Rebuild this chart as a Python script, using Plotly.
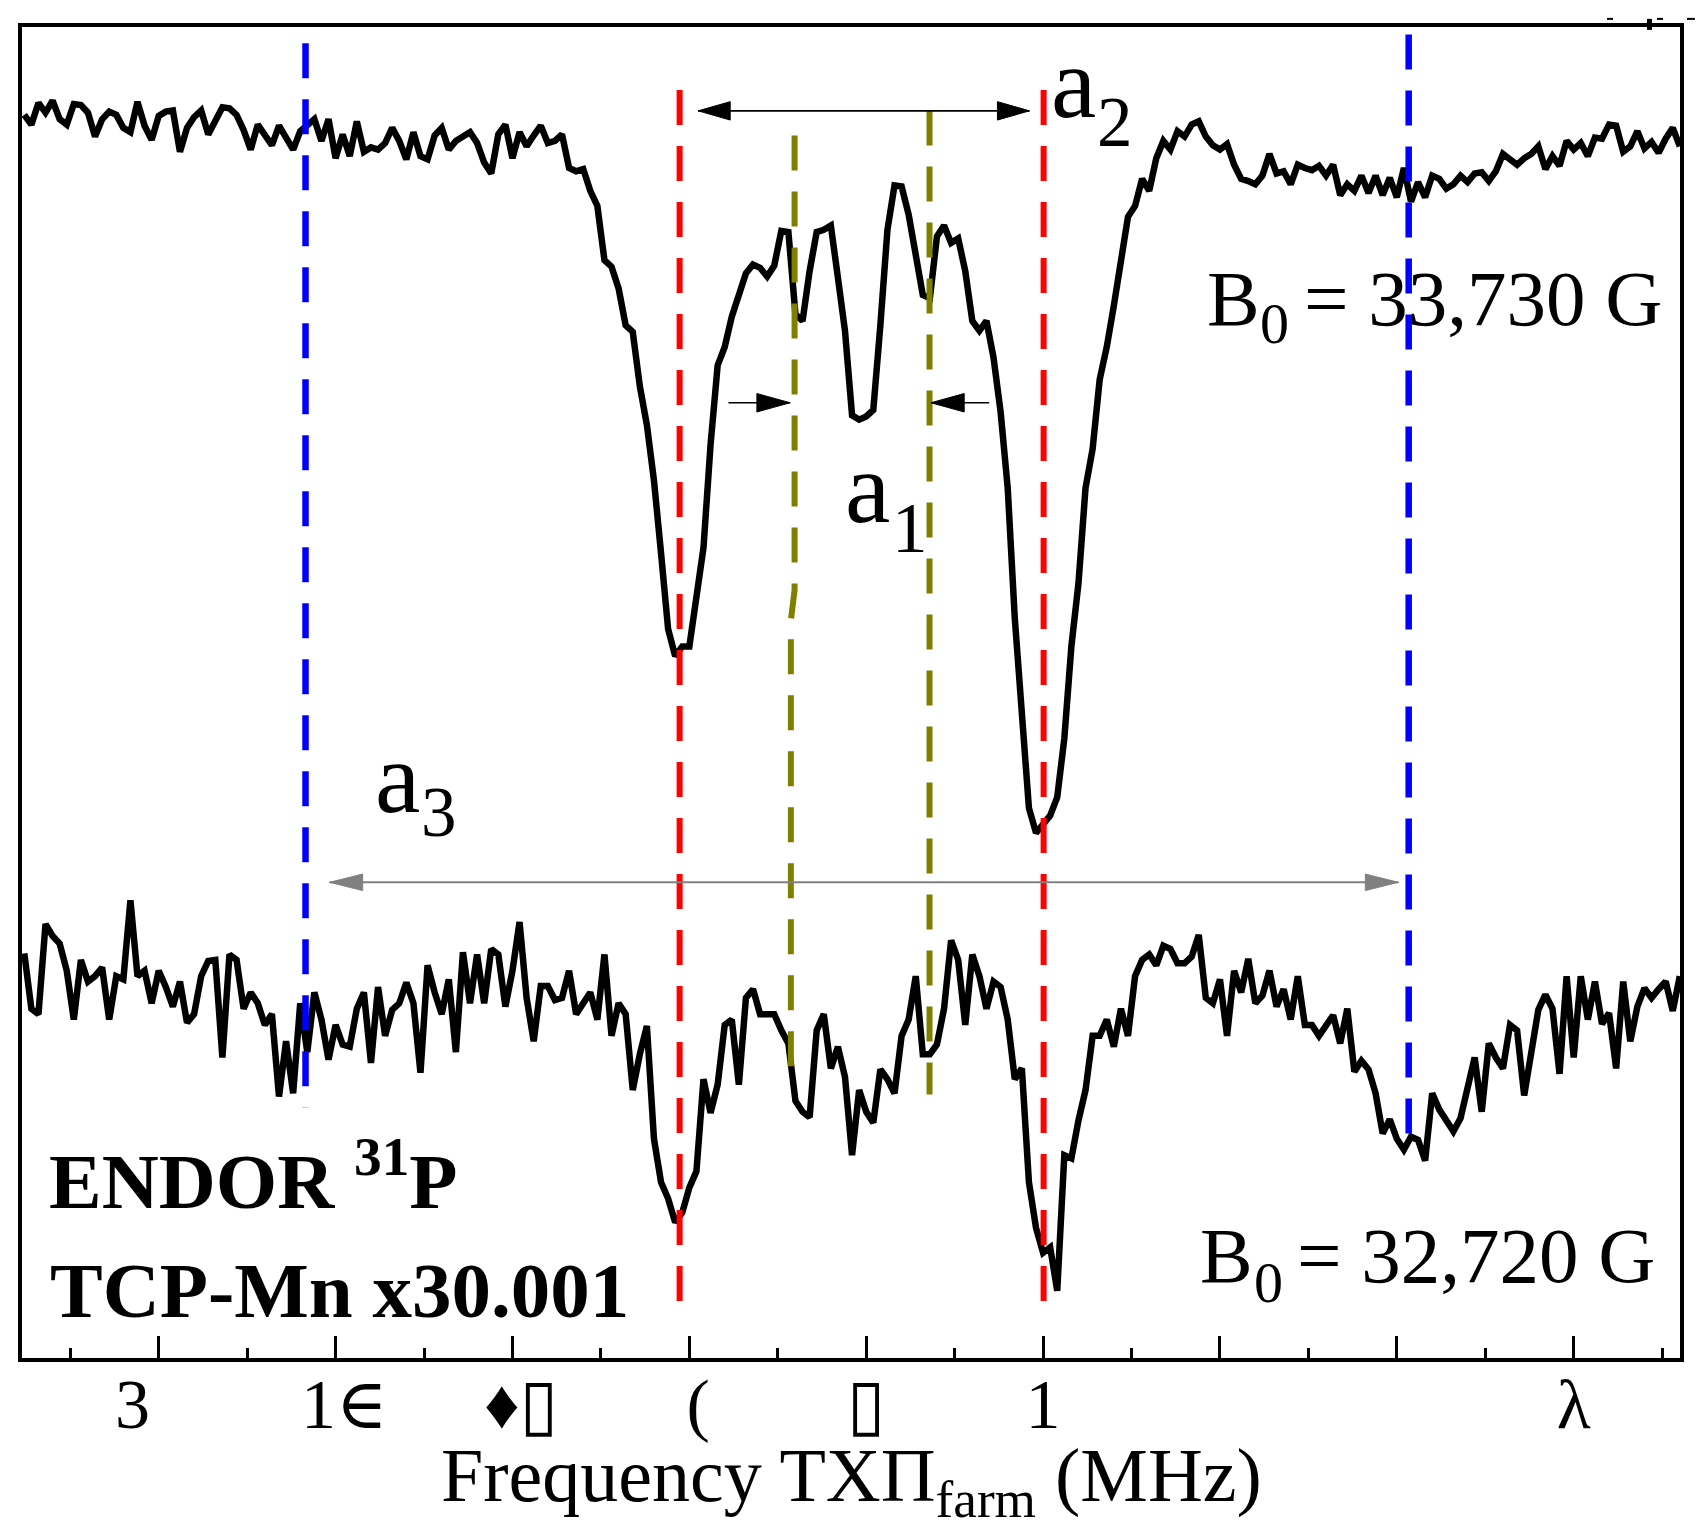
import plotly.graph_objects as go

# sweep axis (MHz) shared by both spectra
freq = [
    49.24, 49.28, 49.32, 49.36, 49.40, 49.44, 49.48, 49.52, 49.56, 49.60,
    49.64, 49.68, 49.72, 49.76, 49.80, 49.84, 49.88, 49.92, 49.96, 50.00,
    50.04, 50.08, 50.12, 50.16, 50.20, 50.24, 50.28, 50.32, 50.36, 50.40,
    50.44, 50.48, 50.52, 50.56, 50.60, 50.64, 50.68, 50.72, 50.76, 50.80,
    50.84, 50.88, 50.92, 50.96, 51.00, 51.04, 51.08, 51.12, 51.16, 51.20,
    51.24, 51.28, 51.32, 51.36, 51.40, 51.44, 51.48, 51.52, 51.56, 51.60,
    51.64, 51.68, 51.72, 51.76, 51.80, 51.84, 51.88, 51.92, 51.96, 52.00,
    52.04, 52.08, 52.12, 52.16, 52.20, 52.24, 52.28, 52.32, 52.36, 52.40,
    52.44, 52.48, 52.52, 52.56, 52.60, 52.64, 52.68, 52.72, 52.76, 52.80,
    52.84, 52.88, 52.92, 52.96, 53.00, 53.04, 53.08, 53.12, 53.16, 53.20,
    53.24, 53.28, 53.32, 53.36, 53.40, 53.44, 53.48, 53.52, 53.56, 53.60,
    53.64, 53.68, 53.72, 53.76, 53.80, 53.84, 53.88, 53.92, 53.96, 54.00,
    54.04, 54.08, 54.12, 54.16, 54.20, 54.24, 54.28, 54.32, 54.36, 54.40,
    54.44, 54.48, 54.52, 54.56, 54.60, 54.64, 54.68, 54.72, 54.76, 54.80,
    54.84, 54.88, 54.92, 54.96, 55.00, 55.04, 55.08, 55.12, 55.16, 55.20,
    55.24, 55.28, 55.32, 55.36, 55.40, 55.44, 55.48, 55.52, 55.56, 55.60,
    55.64, 55.68, 55.72, 55.76, 55.80, 55.84, 55.88, 55.92, 55.96, 56.00,
    56.04, 56.08, 56.12, 56.16, 56.20, 56.24, 56.28, 56.32, 56.36, 56.40,
    56.44, 56.48, 56.52, 56.56, 56.60, 56.64, 56.68, 56.72, 56.76, 56.80,
    56.84, 56.88, 56.92, 56.96, 57.00, 57.04, 57.08, 57.12, 57.16, 57.20,
    57.24, 57.28, 57.32, 57.36, 57.40, 57.44, 57.48, 57.52, 57.56, 57.60,
    57.64, 57.68, 57.72, 57.76, 57.80, 57.84, 57.88, 57.92, 57.96, 58.00,
    58.04, 58.08, 58.12, 58.16, 58.20, 58.24, 58.28, 58.32, 58.36, 58.40,
    58.44, 58.48, 58.52, 58.56, 58.60,
]

# B0 = 33,730 G spectrum (offset upwards, arb. units)
top_signal = [
    114.6, 113.7, 115.7, 114.8, 115.9, 114.2, 113.7, 115.6, 115.5, 114.8,
    112.6, 114.2, 114.9, 114.6, 113.4, 113.0, 115.8, 113.6, 112.3, 114.5,
    114.9, 115.0, 111.2, 113.4, 114.4, 115.0, 112.8, 114.2, 115.3, 115.2,
    114.6, 113.2, 111.4, 113.7, 112.7, 111.8, 113.6, 112.6, 111.4, 113.1,
    113.7, 114.2, 112.2, 114.2, 110.6, 112.8, 110.8, 114.0, 111.2, 111.6,
    111.4, 112.0, 113.4, 112.2, 110.5, 113.0, 110.8, 110.5, 112.7, 113.4,
    111.4, 112.2, 112.6, 113.0, 112.0, 110.2, 109.2, 112.8, 113.7, 110.6,
    113.0, 111.7, 112.7, 113.6, 112.0, 112.2, 112.8, 109.7, 109.4, 109.6,
    107.6, 106.2, 101.2, 100.6, 98.6, 95.2, 94.6, 89.6, 86.0, 80.9,
    74.2, 67.2, 64.7, 65.6, 65.6, 70.3, 74.7, 84.2, 91.5, 93.2,
    96.0, 98.0, 100.0, 100.8, 100.5, 99.7, 100.7, 103.9, 103.8, 96.2,
    95.6, 100.2, 103.8, 104.0, 104.4, 99.6, 94.7, 86.9, 86.5, 86.8,
    87.4, 95.2, 104.0, 108.1, 108.0, 105.4, 101.6, 98.0, 97.7, 103.4,
    104.4, 102.8, 103.2, 100.2, 95.6, 94.7, 95.6, 92.2, 87.2, 80.2,
    68.2, 59.0, 50.7, 48.4, 49.1, 50.0, 51.7, 57.1, 65.6, 71.4,
    80.2, 83.8, 90.2, 93.2, 97.0, 100.8, 105.2, 106.2, 108.7, 107.6,
    110.6, 112.2, 111.4, 113.1, 112.6, 113.7, 114.0, 112.6, 111.8, 111.4,
    111.9, 110.0, 108.7, 108.5, 108.2, 109.0, 111.0, 109.2, 109.4, 108.2,
    110.0, 109.7, 109.5, 109.9, 109.0, 110.0, 107.2, 108.2, 107.6, 109.0,
    107.4, 109.0, 107.2, 108.8, 107.0, 109.7, 106.6, 108.4, 107.0, 109.0,
    108.7, 107.8, 108.2, 109.0, 108.4, 109.2, 109.3, 108.5, 109.4, 111.0,
    110.4, 110.0, 110.6, 111.0, 111.7, 109.6, 110.8, 109.9, 112.2, 111.4,
    112.0, 110.8, 112.5, 112.4, 113.7, 113.6, 111.2, 111.7, 113.1, 111.5,
    112.1, 111.1, 112.4, 113.4, 111.7,
]

# B0 = 32,720 G spectrum (x30)
bottom_signal = [
    37.3, 32.2, 31.7, 40.0, 38.9, 38.2, 35.7, 31.2, 36.7, 34.7,
    35.2, 36.0, 31.2, 35.2, 34.9, 42.2, 35.2, 35.7, 32.7, 35.7,
    34.2, 32.4, 34.7, 30.9, 31.7, 35.2, 36.6, 36.7, 27.7, 37.2,
    36.7, 32.2, 33.7, 32.7, 30.7, 31.7, 24.1, 29.2, 24.4, 32.7,
    28.2, 33.7, 31.2, 27.5, 30.7, 28.9, 28.7, 32.2, 33.7, 27.2,
    34.2, 29.7, 32.1, 32.7, 34.6, 32.7, 26.3, 36.2, 33.7, 31.7,
    34.9, 28.2, 37.4, 32.7, 37.2, 32.7, 37.7, 37.2, 32.4, 35.7,
    40.2, 33.2, 29.2, 34.3, 34.3, 33.0, 33.2, 35.7, 31.7, 32.7,
    33.7, 31.2, 37.2, 29.7, 32.7, 31.7, 24.7, 28.0, 30.6, 20.2,
    16.2, 14.7, 12.5, 13.4, 15.7, 17.2, 25.7, 22.6, 25.2, 30.7,
    31.2, 25.2, 33.2, 34.0, 31.7, 31.7, 31.7, 30.2, 29.0, 23.7,
    22.7, 22.2, 30.2, 31.7, 26.7, 28.7, 25.9, 18.7, 24.7, 22.7,
    21.7, 26.6, 25.7, 24.4, 29.7, 31.2, 35.2, 28.0, 28.0, 28.9,
    32.2, 38.5, 36.7, 30.7, 37.2, 35.2, 32.2, 34.7, 34.2, 31.2,
    25.7, 26.7, 16.2, 12.0, 9.7, 10.2, 6.2, 18.7, 18.4, 21.9,
    24.7, 29.7, 29.7, 31.2, 28.7, 32.2, 29.7, 35.2, 36.7, 37.2,
    36.2, 38.0, 37.7, 36.4, 36.4, 37.0, 39.0, 33.2, 32.7, 34.9,
    29.7, 35.7, 33.7, 36.8, 32.7, 33.4, 35.7, 32.4, 34.0, 31.2,
    35.2, 30.7, 30.7, 29.7, 30.7, 31.6, 29.0, 32.2, 26.4, 27.4,
    26.6, 24.4, 20.7, 22.0, 20.2, 19.2, 20.4, 20.1, 18.2, 24.4,
    22.9, 22.0, 20.9, 22.1, 24.7, 27.7, 22.7, 29.0, 27.7, 26.7,
    30.7, 30.2, 24.2, 28.2, 32.1, 33.5, 32.2, 26.2, 35.2, 27.7,
    35.2, 31.2, 34.7, 30.8, 31.8, 26.7, 34.7, 29.2, 32.4, 34.1,
    33.2, 34.0, 34.7, 32.0, 35.2,
]

# axis ticks (labels as they appear, garbled font)
tick_vals = [50, 51, 52, 53, 54, 55, 56, 57, 58]
tick_text = ["3\u00a0\u00a0\u00a0", "\u00a01\u2208", "\u00a0\u2666\u25af", "\u00a0(",
             "\u25af", "1", "", "", "\u03bb"]
x_title = "Frequency TX\u03a0<sub>farm</sub> (MHz)"

# dashed guide lines: (x list, y list)
blue_left = ([50.83, 50.83], [121.2, 23.1])
blue_right = ([57.067, 57.067], [122.0, 19.2])
red_left = ([52.945, 52.945], [116.9, 3.7])
red_right = ([55.003, 55.003], [116.9, 3.7])
olive_left = ([53.595, 53.595, 53.574, 53.574], [112.7, 70.8, 68.0, 25.5])
olive_right = ([54.358, 54.358], [115.0, 24.3])

# splitting arrows
a2_arrow = dict(y=114.97, x0=53.050, x1=54.923)
a1_left = dict(y=88.06, tail=53.221, tip=53.570)
a1_right = dict(y=88.06, tail=54.695, tip=54.366)
a3_arrow = dict(y=43.85, x0=50.966, x1=57.009)

FONT = "Liberation Serif, Times New Roman, DejaVu Serif, serif"

fig = go.Figure()

fig.add_trace(go.Scatter(x=freq, y=top_signal, mode="lines",
                         line=dict(color="black", width=6.5)))
fig.add_trace(go.Scatter(x=freq, y=bottom_signal, mode="lines",
                         line=dict(color="black", width=6.5)))

for (gx, gy), col, w in [(blue_left, "#0000ff", 6.5), (blue_right, "#0000ff", 6.5),
                         (red_left, "#ff0000", 6), (red_right, "#ff0000", 6),
                         (olive_left, "#808000", 6), (olive_right, "#808000", 6)]:
    fig.add_trace(go.Scatter(x=gx, y=gy, mode="lines",
                             line=dict(color=col, width=w, dash="35px,21px")))


def head(tip, y, direction, length, half, color):
    base = tip - direction * length
    return go.Scatter(x=[tip, base, base, tip], y=[y, y + half, y - half, y],
                      mode="lines", fill="toself", fillcolor=color,
                      line=dict(color=color, width=1))


# a2: double headed black arrow
fig.add_trace(go.Scatter(x=[a2_arrow["x0"], a2_arrow["x1"]], y=[a2_arrow["y"]] * 2,
                         mode="lines", line=dict(color="black", width=1.6)))
fig.add_trace(head(a2_arrow["x0"], a2_arrow["y"], -1, 0.181, 0.85, "black"))
fig.add_trace(head(a2_arrow["x1"], a2_arrow["y"], 1, 0.181, 0.85, "black"))

# a1: two inward arrows
for arr, d in [(a1_left, 1), (a1_right, -1)]:
    fig.add_trace(go.Scatter(x=[arr["tail"], arr["tip"]], y=[arr["y"]] * 2,
                             mode="lines", line=dict(color="black", width=1.6)))
    fig.add_trace(head(arr["tip"], arr["y"], d, 0.188, 0.85, "black"))

# a3: grey double arrow
fig.add_trace(go.Scatter(x=[a3_arrow["x0"], a3_arrow["x1"]], y=[a3_arrow["y"]] * 2,
                         mode="lines", line=dict(color="#808080", width=2)))
fig.add_trace(head(a3_arrow["x0"], a3_arrow["y"], -1, 0.187, 0.76, "#808080"))
fig.add_trace(head(a3_arrow["x1"], a3_arrow["y"], 1, 0.187, 0.76, "#808080"))

labels = [
    # text, x, y, size
    ("a", 55.034, 117.6, 102), ("2", 55.295, 113.9, 71),
    ("a", 53.870, 80.26, 102), ("1", 54.136, 76.5, 71),
    ("a", 51.213, 53.5, 102), ("3", 51.473, 50.3, 71),
    ("B", 55.916, 97.7, 79), ("0", 56.213, 95.4, 58), ("= 33,730 G", 56.465, 97.7, 79),
    ("B", 55.877, 9.41, 79), ("0", 56.179, 7.0, 58), ("= 32,720 G", 56.425, 9.41, 79),
    ("<b>ENDOR <sup>31</sup>P</b>", 49.370, 16.86, 79),
    ("<b>TCP-Mn x30.001</b>", 49.376, 6.18, 79),
]
for txt, lx, ly, sz in labels:
    fig.add_annotation(x=lx, y=ly, text=txt, showarrow=False, xanchor="left",
                       yanchor="middle", font=dict(family=FONT, size=sz, color="black"))

# x-axis title, placed below the tick labels
fig.add_annotation(x=0.5, y=-0.0927, xref="paper", yref="paper", text=x_title,
                   showarrow=False, xanchor="center", yanchor="middle",
                   font=dict(family=FONT, size=76, color="black"))

# small marks above the frame, top right
for x0, x1, y0, y1 in [(0.9560, 0.9596, 1.0061, 1.0061), (0.9861, 0.9898, 1.0061, 1.0061),
                       (1.0042, 1.0090, 1.0061, 1.0061)]:
    fig.add_shape(type="line", xref="paper", yref="paper", x0=x0, x1=x1, y0=y0, y1=y1,
                  line=dict(color="black", width=2))
fig.add_shape(type="rect", xref="paper", yref="paper", x0=0.9801, x1=0.9831,
              y0=0.9978, y1=1.0061, fillcolor="black", line=dict(width=0))

fig.update_xaxes(
    range=[49.227, 58.601], showgrid=False, zeroline=False,
    showline=True, linecolor="black", linewidth=4, mirror=True,
    ticks="inside", ticklen=22, tickwidth=3, tickcolor="black",
    tickvals=tick_vals, ticktext=tick_text, ticklabelstandoff=-18,
    tickfont=dict(family=FONT, size=70, color="black"),
    minor=dict(tickmode="linear", tick0=49.5, dtick=1, ticks="inside",
               ticklen=10, tickwidth=3, tickcolor="black"),
)
fig.update_yaxes(
    range=[0, 122.7], showgrid=False, zeroline=False, showticklabels=False,
    showline=True, linecolor="black", linewidth=4, mirror=True, ticks="",
)

fig.update_layout(
    width=1701, height=1539, autosize=False,
    margin=dict(l=22, r=21, t=27, b=181),
    plot_bgcolor="white", paper_bgcolor="white",
    showlegend=False,
)

fig.write_html("out.html", config={"displayModeBar": False},
               post_script="document.body.style.margin='0';document.body.style.overflow='hidden';")
